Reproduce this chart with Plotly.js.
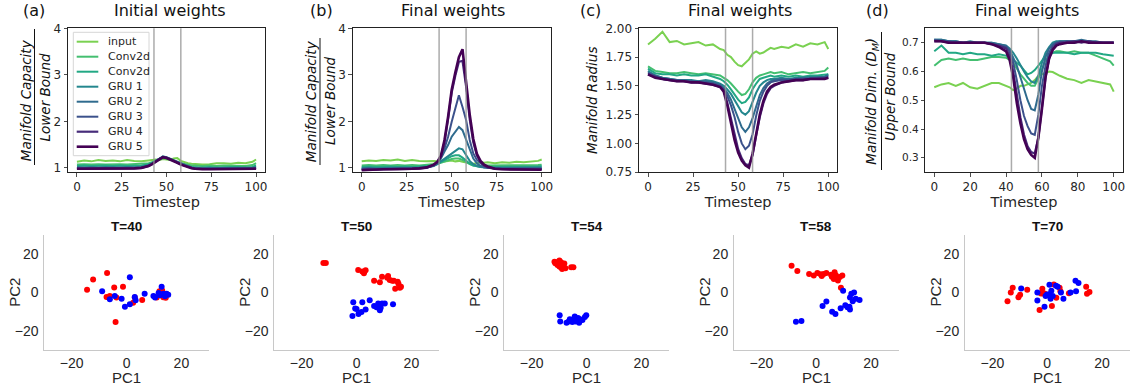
<!DOCTYPE html>
<html>
<head>
<meta charset="utf-8">
<script src="https://cdn.plot.ly/plotly-3.0.1.min.js"></script>
<style>html,body{margin:0;padding:0;background:#fff;}#chart{width:1130px;height:387px;}</style>
</head>
<body>
<div id="chart"></div>
<script>
// ---------------- DATA ----------------
const layerNames = ['input', 'Conv2d', 'Conv2d', 'GRU 1', 'GRU 2', 'GRU 3', 'GRU 4', 'GRU 5'];
const layerColors = ['#7ad151', '#44bf70', '#22a884', '#24878e', '#2f6b8e', '#3b518b', '#472c7a', '#440154'];
const layerWidths = [2, 2, 2, 2, 2, 2, 2.2, 2.6];

const timesteps = [0,4,8,12,16,20,24,28,32,36,40,42,44,46,48,50,52,54,56,58,60,62,64,66,68,70,74,78,82,86,90,94,98,100];
const boundaryTimes = [43, 58];

// (a) capacity, initial weights
const capInitInput = [1.13,1.16,1.14,1.17,1.15,1.16,1.14,1.17,1.15,1.14,1.16,1.17,1.18,1.17,1.19,1.18,1.17,1.2,1.21,1.15,1.12,1.1,1.09,1.08,1.08,1.07,1.08,1.1,1.1,1.09,1.11,1.1,1.13,1.18];
const capInitConvA = [1.07,1.08,1.07,1.08,1.07,1.08,1.08,1.07,1.08,1.08,1.1,1.12,1.15,1.18,1.21,1.2,1.18,1.15,1.13,1.1,1.08,1.06,1.05,1.05,1.04,1.04,1.05,1.04,1.05,1.05,1.05,1.04,1.06,1.1];
const capInitConvB = [1.04,1.05,1.04,1.05,1.05,1.04,1.05,1.04,1.05,1.05,1.08,1.11,1.15,1.19,1.23,1.21,1.18,1.15,1.12,1.08,1.05,1.03,1.02,1.01,1.01,1.01,1.02,1.01,1.02,1.02,1.02,1.01,1.02,1.05];
const capInitGRU1 = [1.02,1.01,1.02,1.01,1.02,1.01,1.01,1.02,1.01,1.02,1.06,1.1,1.15,1.2,1.25,1.23,1.2,1.16,1.13,1.1,1.06,1.03,1.01,1.0,0.99,0.99,0.99,0.99,1.0,0.99,0.99,0.99,1.0,1.02];
const capInitGRU2 = [1.0,1.0,1.01,1.0,1.0,1.01,1.0,1.0,1.01,1.01,1.05,1.09,1.15,1.2,1.24,1.22,1.19,1.16,1.12,1.09,1.06,1.03,1.01,0.99,0.99,0.98,0.99,0.98,0.99,0.98,0.99,0.98,0.99,1.01];
const capInitGRU3 = [0.99,0.99,1.0,0.99,0.99,1.0,0.99,0.99,1.0,1.0,1.05,1.09,1.14,1.19,1.24,1.22,1.19,1.15,1.12,1.08,1.05,1.02,1.0,0.99,0.98,0.98,0.98,0.98,0.98,0.98,0.98,0.98,0.98,1.0];
const capInitGRU4 = [0.98,0.98,0.99,0.98,0.98,0.99,0.98,0.99,0.99,1.0,1.04,1.08,1.14,1.19,1.23,1.22,1.19,1.15,1.11,1.08,1.05,1.02,1.0,0.98,0.98,0.97,0.98,0.97,0.98,0.97,0.98,0.97,0.98,0.99];
const capInitGRU5 = [0.98,0.98,0.98,0.98,0.98,0.98,0.98,0.98,0.99,1.0,1.04,1.08,1.13,1.18,1.23,1.21,1.18,1.14,1.11,1.07,1.04,1.01,0.99,0.98,0.97,0.97,0.97,0.97,0.97,0.97,0.97,0.97,0.97,0.98];

// (b) capacity, final weights
const capFinInput = [1.14,1.16,1.15,1.17,1.16,1.18,1.15,1.17,1.15,1.14,1.15,1.14,1.16,1.14,1.15,1.16,1.14,1.15,1.13,1.12,1.1,1.09,1.1,1.12,1.11,1.12,1.1,1.12,1.11,1.13,1.12,1.14,1.15,1.18];
const capFinConvA = [1.05,1.06,1.05,1.06,1.05,1.06,1.05,1.06,1.05,1.06,1.07,1.09,1.11,1.14,1.17,1.19,1.2,1.2,1.17,1.12,1.08,1.05,1.04,1.04,1.05,1.05,1.06,1.05,1.06,1.05,1.06,1.05,1.06,1.07];
const capFinConvB = [1.02,1.03,1.02,1.03,1.03,1.02,1.03,1.02,1.03,1.03,1.05,1.08,1.12,1.17,1.21,1.25,1.27,1.27,1.22,1.15,1.09,1.05,1.03,1.02,1.02,1.02,1.03,1.02,1.03,1.02,1.03,1.02,1.03,1.04];
const capFinGRU1 = [0.99,1.0,0.99,1.0,1.0,1.0,1.0,1.0,1.0,1.01,1.04,1.08,1.14,1.2,1.25,1.3,1.36,1.42,1.4,1.28,1.15,1.08,1.04,1.02,1.01,1.0,1.0,1.0,1.0,1.0,1.0,1.0,1.0,1.01];
const capFinGRU2 = [0.98,0.99,0.98,0.99,0.99,0.99,0.99,0.99,1.0,1.01,1.05,1.1,1.2,1.35,1.49,1.67,1.77,1.88,1.81,1.6,1.38,1.2,1.1,1.04,1.01,1.0,0.99,0.99,0.99,0.99,0.99,0.99,0.99,0.99];
const capFinGRU3 = [0.97,0.98,0.97,0.98,0.98,0.98,0.98,0.99,0.99,1.0,1.05,1.12,1.24,1.42,1.67,1.99,2.28,2.56,2.31,2.03,1.6,1.31,1.17,1.1,1.04,1.01,0.99,0.98,0.98,0.98,0.98,0.98,0.98,0.98];
const capFinGRU4 = [0.96,0.97,0.96,0.97,0.97,0.97,0.97,0.98,0.99,1.0,1.06,1.12,1.24,1.55,2.05,2.62,2.98,3.28,3.3,2.75,2.05,1.55,1.27,1.12,1.05,1.01,0.98,0.97,0.97,0.97,0.97,0.97,0.97,0.97];
const capFinGRU5 = [0.95,0.96,0.96,0.97,0.97,0.97,0.97,0.98,0.99,1.01,1.07,1.13,1.26,1.6,2.1,2.68,3.05,3.38,3.55,2.85,2.15,1.62,1.3,1.15,1.07,1.03,0.98,0.97,0.97,0.97,0.97,0.97,0.96,0.96];

// (c) manifold radius, final weights
const radInput = [1.86,1.91,1.97,1.88,1.89,1.86,1.87,1.88,1.85,1.86,1.82,1.81,1.77,1.75,1.71,1.68,1.67,1.7,1.73,1.78,1.8,1.78,1.79,1.81,1.83,1.82,1.84,1.83,1.86,1.84,1.87,1.86,1.88,1.82];
const radConvA = [1.67,1.63,1.62,1.61,1.61,1.62,1.61,1.6,1.61,1.6,1.59,1.57,1.55,1.52,1.48,1.45,1.42,1.43,1.47,1.53,1.57,1.59,1.6,1.61,1.62,1.61,1.62,1.6,1.61,1.62,1.61,1.62,1.63,1.66];
const radConvB = [1.65,1.61,1.6,1.6,1.59,1.6,1.59,1.59,1.6,1.58,1.56,1.54,1.51,1.47,1.42,1.38,1.35,1.36,1.4,1.47,1.52,1.56,1.57,1.58,1.59,1.58,1.59,1.58,1.59,1.58,1.59,1.59,1.6,1.6];
const radGRU1 = [1.63,1.59,1.57,1.56,1.55,1.55,1.55,1.54,1.55,1.54,1.52,1.5,1.47,1.43,1.38,1.32,1.27,1.25,1.28,1.36,1.44,1.5,1.53,1.55,1.56,1.56,1.57,1.56,1.57,1.57,1.58,1.58,1.58,1.6];
const radGRU2 = [1.62,1.59,1.57,1.56,1.55,1.55,1.54,1.54,1.54,1.53,1.51,1.48,1.44,1.38,1.3,1.22,1.14,1.1,1.14,1.22,1.33,1.42,1.48,1.52,1.54,1.55,1.56,1.56,1.56,1.57,1.57,1.57,1.58,1.59];
const radGRU3 = [1.61,1.58,1.56,1.55,1.55,1.54,1.54,1.53,1.53,1.52,1.5,1.47,1.41,1.33,1.23,1.1,1.0,0.95,0.98,1.08,1.24,1.37,1.45,1.5,1.53,1.54,1.55,1.55,1.56,1.56,1.56,1.57,1.57,1.58];
const radGRU4 = [1.6,1.58,1.56,1.55,1.54,1.54,1.53,1.53,1.52,1.51,1.49,1.46,1.35,1.22,1.07,0.95,0.87,0.82,0.81,0.9,1.07,1.23,1.35,1.43,1.48,1.5,1.53,1.54,1.55,1.55,1.56,1.56,1.57,1.57];
const radGRU5 = [1.6,1.57,1.56,1.55,1.54,1.54,1.53,1.53,1.52,1.51,1.49,1.45,1.33,1.19,1.03,0.92,0.85,0.81,0.79,0.91,1.1,1.25,1.37,1.45,1.49,1.51,1.53,1.54,1.55,1.55,1.56,1.56,1.56,1.57];

// (d) manifold dimension, final weights
const dimInput = [0.545,0.555,0.56,0.55,0.56,0.545,0.54,0.55,0.56,0.56,0.55,0.545,0.535,0.54,0.55,0.55,0.555,0.56,0.57,0.585,0.59,0.595,0.6,0.598,0.59,0.585,0.575,0.57,0.56,0.57,0.565,0.56,0.555,0.53];
const dimConvA = [0.62,0.64,0.645,0.64,0.645,0.64,0.64,0.645,0.65,0.65,0.648,0.64,0.63,0.61,0.59,0.575,0.56,0.55,0.55,0.575,0.61,0.64,0.655,0.665,0.67,0.67,0.665,0.67,0.665,0.665,0.655,0.645,0.635,0.62];
const dimConvB = [0.67,0.69,0.665,0.665,0.66,0.665,0.66,0.66,0.655,0.66,0.655,0.65,0.64,0.63,0.62,0.605,0.59,0.595,0.605,0.62,0.64,0.655,0.66,0.665,0.665,0.665,0.665,0.66,0.665,0.665,0.665,0.66,0.655,0.655];
const dimGRU1 = [0.71,0.71,0.705,0.705,0.7,0.705,0.7,0.7,0.7,0.695,0.69,0.68,0.665,0.645,0.62,0.6,0.58,0.565,0.56,0.585,0.63,0.665,0.685,0.7,0.705,0.705,0.705,0.7,0.705,0.705,0.7,0.7,0.7,0.7];
const dimGRU2 = [0.71,0.71,0.705,0.705,0.7,0.7,0.7,0.7,0.7,0.695,0.69,0.675,0.65,0.62,0.58,0.54,0.5,0.47,0.465,0.52,0.6,0.65,0.68,0.695,0.7,0.705,0.705,0.705,0.71,0.705,0.705,0.7,0.7,0.7];
const dimGRU3 = [0.71,0.705,0.705,0.7,0.7,0.7,0.7,0.7,0.695,0.69,0.685,0.67,0.63,0.57,0.5,0.445,0.41,0.385,0.38,0.45,0.55,0.62,0.665,0.69,0.7,0.7,0.705,0.705,0.705,0.705,0.7,0.7,0.7,0.7];
const dimGRU4 = [0.705,0.705,0.7,0.7,0.7,0.7,0.7,0.7,0.695,0.69,0.68,0.655,0.6,0.52,0.44,0.38,0.34,0.32,0.315,0.37,0.48,0.58,0.645,0.68,0.695,0.7,0.7,0.705,0.7,0.705,0.7,0.7,0.7,0.7];
const dimGRU5 = [0.705,0.705,0.7,0.7,0.7,0.7,0.7,0.7,0.695,0.685,0.67,0.64,0.58,0.49,0.42,0.365,0.33,0.31,0.30,0.37,0.47,0.58,0.645,0.675,0.69,0.695,0.7,0.7,0.705,0.7,0.7,0.7,0.7,0.7];

// PCA snapshots
const snapshotLabels = ['T=40', 'T=50', 'T=54', 'T=58', 'T=70'];
const t40RedX = [-14.4,-12.2,-7.1,-4.5,-1.3,-7.3,-6.1,-3.7,-4.0,2.4,5.7,3.0,11.0,12.0,13.0,13.8,14.3,13.4,12.4];
const t40RedY = [1.4,6.8,10.2,2.6,3.0,-2.3,-1.8,-2.6,-15.4,-5.3,-3.9,-2.6,-2.6,0.7,1.0,-1.4,-2.8,-2.5,-0.7];
const t40BlueX = [1.2,-8.9,-6.1,-4.3,-1.8,-0.6,1.2,3.0,3.3,6.6,9.8,10.4,11.7,12.8,12.2,13.4,14.6,15.2,14.0];
const t40BlueY = [7.9,0.7,-3.5,-1.8,-3.2,-7.5,-6.1,-2.3,-4.0,-0.7,-1.8,-2.6,-0.2,3.0,-1.4,-0.7,-0.7,-1.2,-1.9];
const t50RedX = [-12.1,-11.2,0.6,2.1,2.7,3.3,6.4,8.5,9.3,11.2,11.5,12.1,13.0,13.6,15.0,15.3,15.8,14.1,16.2];
const t50RedY = [15.4,15.4,11.8,10.9,10.0,11.6,6.1,5.4,8.2,7.7,8.6,6.5,6.1,6.1,5.6,4.6,2.5,1.9,3.0];
const t50BlueX = [-1.2,-0.5,0.0,-1.5,0.7,1.8,2.1,3.3,4.8,6.4,7.3,7.9,8.5,8.8,9.3,10.3,13.3,8.2];
const t50BlueY = [-5.1,-8.4,-8.6,-12.3,-11.2,-10.2,-5.1,-8.9,-4.0,-7.0,-7.7,-5.8,-9.3,-7.9,-5.8,-5.8,-6.1,-7.0];
const t54RedX = [-11.7,-10.8,-9.9,-9.3,-10.6,-9.6,-8.6,-8.3,-9.9,-8.9,-8.1,-11.4,-5.6,-4.8,-10.2,-9.3,-7.7];
const t54RedY = [16.1,15.8,16.7,15.8,14.4,14.4,14.4,13.2,13.5,12.3,15.1,15.3,13.2,13.2,15.3,13.0,12.6];
const t54BlueX = [-9.8,-9.6,-7.3,-6.5,-5.2,-4.3,-4.0,-3.4,-2.7,-2.4,-1.5,-0.6,-0.1,-3.1,-5.2,-6.1,-4.3];
const t54BlueY = [-11.9,-15.1,-15.8,-15.1,-15.4,-12.5,-15.1,-14.6,-15.8,-14.0,-14.4,-12.8,-11.9,-13.3,-14.2,-14.0,-14.0];
const t58RedX = [-9.0,-6.9,-2.6,-0.9,0.4,1.6,2.0,2.7,3.7,5.4,6.2,6.7,7.2,7.7,8.6,9.5,7.9,6.4,9.0,5.7];
const t58RedY = [14.0,11.2,9.6,8.9,10.2,9.5,8.6,9.6,10.2,9.3,8.2,10.5,8.9,7.4,8.1,8.9,6.3,7.0,2.5,8.2];
const t58BlueX = [-7.4,-5.4,2.3,3.7,5.8,7.0,8.9,9.8,10.6,11.4,12.3,12.3,12.8,13.8,13.3,14.4,15.8,12.1];
const t58BlueY = [-15.3,-14.9,-7.0,-4.7,-10.0,-11.2,-8.2,0.9,-6.7,-7.7,-8.9,-2.6,-0.7,0.0,-4.6,-3.2,-3.9,-7.5];
const t70RedX = [-14.5,-13.3,-12.6,-10.5,-9.9,-7.3,-2.8,-2.3,-1.6,-1.8,-1.0,1.7,2.4,3.3,4.5,4.8,7.9,14.2,14.5,15.4];
const t70RedY = [-4.6,0.0,2.5,-2.5,-1.2,1.4,-9.1,-0.5,-0.5,1.9,-0.5,-7.0,4.2,-2.8,2.5,0.7,-0.4,3.0,-0.7,0.2];
const t70BlueX = [-9.5,-3.6,-3.6,-1.0,-0.6,-0.1,0.7,0.8,1.5,1.2,2.0,3.2,3.8,5.0,5.9,8.5,10.3,11.4,10.5];
const t70BlueY = [2.1,0.0,-4.2,-7.5,-1.8,-1.0,-0.9,4.0,0.9,-3.2,-1.8,3.5,3.0,0.0,-3.2,0.0,6.1,4.9,0.7];

// ---------------- LAYOUT HELPERS ----------------
const W = 1130, H = 387;
const fx = x => x / W;
const fy = y => 1 - y / H;

const panelSeries = [
  [capInitInput, capInitConvA, capInitConvB, capInitGRU1, capInitGRU2, capInitGRU3, capInitGRU4, capInitGRU5],
  [capFinInput, capFinConvA, capFinConvB, capFinGRU1, capFinGRU2, capFinGRU3, capFinGRU4, capFinGRU5],
  [radInput, radConvA, radConvB, radGRU1, radGRU2, radGRU3, radGRU4, radGRU5],
  [dimInput, dimConvA, dimConvB, dimGRU1, dimGRU2, dimGRU3, dimGRU4, dimGRU5]
];
const snapRed = [[t40RedX, t40RedY], [t50RedX, t50RedY], [t54RedX, t54RedY], [t58RedX, t58RedY], [t70RedX, t70RedY]];
const snapBlue = [[t40BlueX, t40BlueY], [t50BlueX, t50BlueY], [t54BlueX, t54BlueY], [t58BlueX, t58BlueY], [t70BlueX, t70BlueY]];

const topXpx = [[68, 265], [352.7, 550.7], [639, 837.3], [925.3, 1122.7]];
const topYpx = [28.3, 172.2];
const botXpx = [[44.3, 208.8], [274.3, 438.8], [504.3, 668.8], [734, 898.5], [965, 1129.5]];
const botYpx = [235, 350];

const MPL = 'DejaVu Sans, sans-serif';
const HELV = 'Liberation Sans, Arial, sans-serif';
const TXT = '#262626';

const traces = [];
const layout = {
  width: W, height: H,
  margin: {l: 0, r: 0, t: 0, b: 0},
  paper_bgcolor: '#fff', plot_bgcolor: '#fff',
  showlegend: false,
  shapes: [], annotations: []
};

const topYranges = [[0.907, 4.0], [0.907, 4.0], [0.75, 2.0], [0.25, 0.75]];
const topYticks = [[1, 2, 3, 4], [1, 2, 3, 4], [0.75, 1.0, 1.25, 1.5, 1.75, 2.0], [0.3, 0.4, 0.5, 0.6, 0.7]];
const topYfmt = ['', '', '.2f', '.1f'];
const topXticks = [[0, 25, 50, 75, 100], [0, 25, 50, 75, 100], [0, 25, 50, 75, 100], [0, 20, 40, 60, 80, 100]];

for (let p = 0; p < 4; p++) {
  const xa = p === 0 ? 'x' : 'x' + (p + 1);
  const ya = p === 0 ? 'y' : 'y' + (p + 1);
  panelSeries[p].forEach((vals, i) => {
    traces.push({
      type: 'scatter', mode: 'lines', x: timesteps, y: vals, name: layerNames[i],
      xaxis: xa, yaxis: ya, line: {color: layerColors[i], width: layerWidths[i]},
      hoverinfo: 'skip'
    });
  });
  const key = p === 0 ? '' : String(p + 1);
  layout['xaxis' + key] = {
    domain: [fx(topXpx[p][0]), fx(topXpx[p][1])], anchor: ya, range: [-5, 105],
    showline: true, mirror: true, linecolor: '#222', linewidth: 1,
    ticks: 'outside', ticklen: 3.5, tickwidth: 0.8, tickcolor: '#222',
    tickvals: topXticks[p], showgrid: false, zeroline: false,
    tickfont: {family: MPL, size: 12, color: TXT},
    title: {text: 'Timestep', font: {family: MPL, size: 14.5, color: TXT}, standoff: 3}
  };
  layout['yaxis' + key] = {
    domain: [fy(topYpx[1]), fy(topYpx[0])], anchor: xa, range: topYranges[p],
    showline: true, mirror: true, linecolor: '#222', linewidth: 1,
    ticks: 'outside', ticklen: 3.5, tickwidth: 0.8, tickcolor: '#222',
    tickvals: topYticks[p], tickformat: topYfmt[p], showgrid: false, zeroline: false,
    tickfont: {family: MPL, size: p === 3 ? 10.5 : 12, color: TXT}
  };
  boundaryTimes.forEach(t => {
    layout.shapes.push({type: 'line', xref: xa, yref: ya + ' domain', x0: t, x1: t, y0: 0, y1: 1,
      line: {color: 'rgba(150,150,150,0.8)', width: 1.5}, layer: 'above'});
  });
}

for (let p = 0; p < 5; p++) {
  const n = p + 5;
  const xa = 'x' + n, ya = 'y' + n;
  traces.push({type: 'scatter', mode: 'markers', x: snapRed[p][0], y: snapRed[p][1], xaxis: xa, yaxis: ya,
    marker: {color: '#ff0000', size: 6}, hoverinfo: 'skip'});
  traces.push({type: 'scatter', mode: 'markers', x: snapBlue[p][0], y: snapBlue[p][1], xaxis: xa, yaxis: ya,
    marker: {color: '#0000ff', size: 6}, hoverinfo: 'skip'});
  const common = {
    range: [-30, 30], showline: true, linecolor: '#c8c8c8', linewidth: 1, mirror: false,
    ticks: '', tickvals: [-20, 0, 20], showgrid: false, zeroline: false,
    tickfont: {family: HELV, size: 14, color: TXT}
  };
  layout['xaxis' + n] = Object.assign({}, common, {domain: [fx(botXpx[p][0]), fx(botXpx[p][1])], anchor: ya});
  layout['yaxis' + n] = Object.assign({}, common, {domain: [fy(botYpx[1]), fy(botYpx[0])], anchor: xa, ticklabelstandoff: 2});
  const cx = (botXpx[p][0] + botXpx[p][1]) / 2;
  layout.annotations.push({xref: 'paper', yref: 'paper', x: fx(cx), y: fy(226.7), text: '<b>' + snapshotLabels[p] + '</b>',
    showarrow: false, xanchor: 'center', yanchor: 'middle', font: {family: HELV, size: 13.5, color: '#111'}});
  layout.annotations.push({xref: 'paper', yref: 'paper', x: fx(cx), y: fy(377.5), text: 'PC1',
    showarrow: false, xanchor: 'center', yanchor: 'middle', font: {family: HELV, size: 15, color: TXT}});
  layout.annotations.push({xref: 'paper', yref: 'paper', x: fx(botXpx[p][0] - 30), y: fy(292.5), text: 'PC2', textangle: -90,
    showarrow: false, xanchor: 'center', yanchor: 'middle', font: {family: HELV, size: 15, color: TXT}});
}

// Panel titles and letters
const topTitles = ['Initial weights', 'Final weights', 'Final weights', 'Final weights'];
const topTitleX = [170, 453.3, 740, 1026.7];
const panelLetters = ['(a)', '(b)', '(c)', '(d)'];
const letterX = [34, 321.7, 590, 877.3];
for (let p = 0; p < 4; p++) {
  layout.annotations.push({xref: 'paper', yref: 'paper', x: fx(topTitleX[p]), y: fy(11), text: topTitles[p],
    showarrow: false, xanchor: 'center', yanchor: 'middle', font: {family: MPL, size: 16, color: '#111'}});
  layout.annotations.push({xref: 'paper', yref: 'paper', x: fx(letterX[p]), y: fy(11), text: panelLetters[p],
    showarrow: false, xanchor: 'center', yanchor: 'middle', font: {family: MPL, size: 16, color: '#111'}});
}

// Y-axis labels for top panels (fractions)
function yLabel(x, y, text) {
  layout.annotations.push({xref: 'paper', yref: 'paper', x: fx(x), y: fy(y), text: '<i>' + text + '</i>', textangle: -90,
    showarrow: false, xanchor: 'center', yanchor: 'middle', font: {family: MPL, size: 13.5, color: '#111'}});
}
function fracLine(x, y0, y1) {
  layout.shapes.push({type: 'line', xref: 'paper', yref: 'paper', x0: fx(x), x1: fx(x), y0: fy(y0), y1: fy(y1),
    line: {color: '#111', width: 1}});
}
yLabel(26.2, 100, 'Manifold Capacity'); fracLine(34.5, 29, 165); yLabel(44.5, 97, 'Lower Bound');
yLabel(311.2, 101, 'Manifold Capacity'); fracLine(320, 38, 165); yLabel(330, 101, 'Lower Bound');
yLabel(592, 101, 'Manifold Radius');
yLabel(871.2, 101.5, 'Manifold Dim. (<i>D</i><sub>M</sub>)'); fracLine(881.5, 32, 170); yLabel(890, 97, 'Upper Bound');

// Manual legend in panel (a)
layout.shapes.push({type: 'rect', xref: 'paper', yref: 'paper', x0: fx(73.3), x1: fx(149), y0: fy(155.7), y1: fy(32.3),
  line: {color: '#d6d6d6', width: 1}, fillcolor: 'rgba(255,255,255,0.85)'});
layerNames.forEach((nm, i) => {
  const yy = 41.7 + i * 15;
  layout.shapes.push({type: 'line', xref: 'paper', yref: 'paper', x0: fx(76.7), x1: fx(98.3), y0: fy(yy), y1: fy(yy),
    line: {color: layerColors[i], width: layerWidths[i]}});
  layout.annotations.push({xref: 'paper', yref: 'paper', x: fx(106), y: fy(yy), text: nm, showarrow: false,
    xanchor: 'left', yanchor: 'middle', font: {family: MPL, size: 11, color: TXT}});
});

Plotly.newPlot('chart', traces, layout, {staticPlot: true, displayModeBar: false});
</script>
</body>
</html>
